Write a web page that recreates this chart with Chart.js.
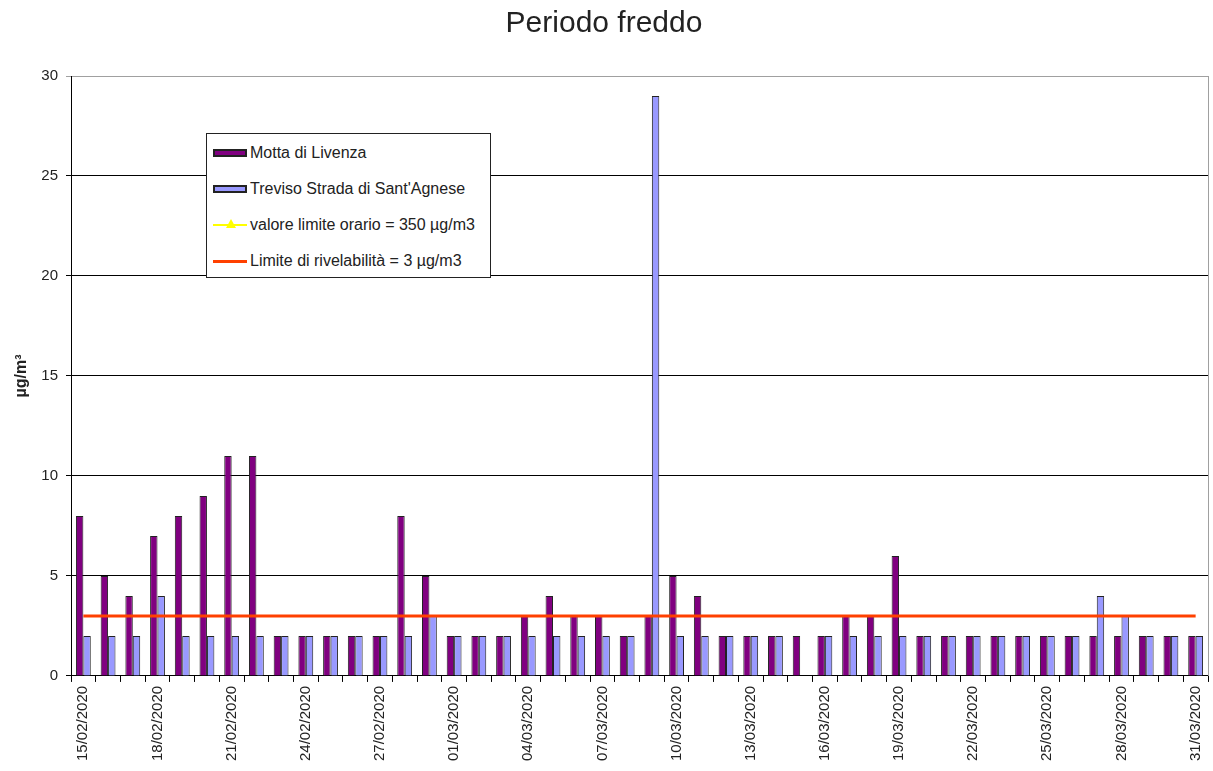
<!DOCTYPE html>
<html lang="it">
<head>
<meta charset="utf-8">
<title>Periodo freddo</title>
<script src="https://cdn.jsdelivr.net/npm/chart.js@4/dist/chart.umd.min.js"></script>
<style>
    body { margin: 0; background: #fff; font-family: 'Liberation Sans', Arial, sans-serif; }
    #wrap { position: relative; width: 1213px; height: 771px; }
    #legenda {
        position: absolute; left: 206px; top: 133px; width: 283px; height: 142px;
        border: 1px solid #222; background: #fff; padding-top: 1px; box-sizing: content-box;
    }
    #legenda .voce { height: 36px; display: flex; align-items: center; font-size: 16px; color: #222; }
    #legenda .segno { width: 34px; height: 10px; margin: 0 3px 0 6px; position: relative; }
</style>
</head>
<body>
<div id="wrap">
    <canvas id="freddoChart" width="1213" height="771"></canvas>
    <div id="legenda"></div>
</div>
<script>
var giorni = ['15/02/2020', '16/02/2020', '17/02/2020', '18/02/2020', '19/02/2020', '20/02/2020', '21/02/2020', '22/02/2020',
    '23/02/2020', '24/02/2020', '25/02/2020', '26/02/2020', '27/02/2020', '28/02/2020', '29/02/2020',
    '01/03/2020', '02/03/2020', '03/03/2020', '04/03/2020', '05/03/2020', '06/03/2020', '07/03/2020', '08/03/2020',
    '09/03/2020', '10/03/2020', '11/03/2020', '12/03/2020', '13/03/2020', '14/03/2020', '15/03/2020', '16/03/2020',
    '17/03/2020', '18/03/2020', '19/03/2020', '20/03/2020', '21/03/2020', '22/03/2020', '23/03/2020', '24/03/2020',
    '25/03/2020', '26/03/2020', '27/03/2020', '28/03/2020', '29/03/2020', '30/03/2020', '31/03/2020'];

// µg/m3, media giornaliera
var motta = [8, 5, 4, 7, 8, 9, 11, 11, 2, 2, 2, 2, 2, 8, 5,
    2, 2, 2, 3, 4, 3, 3, 2, 3, 5, 4, 2, 2, 2, 2, 2,
    3, 3, 6, 2, 2, 2, 2, 2, 2, 2, 2, 2, 2, 2, 2];
var treviso = [2, 2, 2, 4, 2, 2, 2, 2, 2, 2, 2, 2, 2, 2, 3,
    2, 2, 2, 2, 2, 2, 2, 2, 29, 2, 2, 2, 2, 2, null, 2,
    2, 2, 2, 2, 2, 2, 2, 2, 2, 2, 4, 3, 2, 2, 2];
var limiteOrario = [350, 350, 350, 350, 350, 350, 350, 350, 350, 350, 350, 350, 350, 350, 350,
    350, 350, 350, 350, 350, 350, 350, 350, 350, 350, 350, 350, 350, 350, 350, 350,
    350, 350, 350, 350, 350, 350, 350, 350, 350, 350, 350, 350, 350, 350, 350];
var rivelabilita = [3, 3, 3, 3, 3, 3, 3, 3, 3, 3, 3, 3, 3, 3, 3,
    3, 3, 3, 3, 3, 3, 3, 3, 3, 3, 3, 3, 3, 3, 3, 3,
    3, 3, 3, 3, 3, 3, 3, 3, 3, 3, 3, 3, 3, 3, 3];

var font = "'Liberation Sans', Arial, sans-serif";

// bordo grigio sul lato destro dell'area del grafico
var bordoDestro = {
    id: 'bordoDestro',
    afterDraw: function (chart) {
        var a = chart.chartArea, ctx = chart.ctx;
        ctx.save();
        ctx.strokeStyle = '#a0a0a0';
        ctx.lineWidth = 1;
        ctx.beginPath();
        ctx.moveTo(Math.round(a.right) + 0.5, a.top);
        ctx.lineTo(Math.round(a.right) + 0.5, a.bottom);
        ctx.stroke();
        ctx.restore();
    }
};

var freddo = document.getElementById('freddoChart').getContext('2d');
var freddoChart = new Chart(freddo, {
    type: 'bar',
    data: {
        labels: giorni,
        datasets: [
            {
                label: 'Motta di Livenza',
                backgroundColor: '#800080',
                borderColor: '#222',
                borderWidth: 1,
                data: motta,
                order: 2
            },
            {
                label: "Treviso Strada di Sant'Agnese",
                backgroundColor: '#9999ff',
                borderColor: '#222',
                borderWidth: 1,
                data: treviso,
                order: 2
            },
            {
                type: 'line',
                label: 'valore limite orario = 350 µg/m3',
                borderColor: '#ffff00',
                backgroundColor: '#ffff00',
                borderWidth: 1,
                pointStyle: 'triangle',
                pointRadius: 4,
                data: limiteOrario,
                order: 1
            },
            {
                type: 'line',
                label: 'Limite di rivelabilità = 3 µg/m3',
                borderColor: '#ff4000',
                backgroundColor: '#ff4000',
                borderWidth: 3,
                pointRadius: 0,
                data: rivelabilita,
                order: 1
            }
        ]
    },
    options: {
        responsive: false,
        animation: false,
        categoryPercentage: 0.6,
        barPercentage: 1,
        layout: { padding: { left: 0, right: 5, top: 0, bottom: 6 } },
        plugins: {
            legend: { display: false },
            tooltip: { enabled: false },
            title: {
                display: true,
                text: 'Periodo freddo',
                color: '#222',
                font: { family: font, size: 30, weight: 'normal' },
                padding: { top: 6, bottom: 34 }
            }
        },
        scales: {
            x: {
                offset: true,
                afterFit: function (scale) { scale.paddingRight = 0; },
                grid: { display: true, drawOnChartArea: false, offset: true, tickLength: 6, color: '#000' },
                border: { display: true, color: '#000', width: 1 },
                ticks: {
                    autoSkip: false,
                    maxRotation: 90,
                    minRotation: 90,
                    padding: 4,
                    color: '#222',
                    font: { family: font, size: 15 },
                    callback: function (v, i) { return i % 3 === 0 ? giorni[i] : ''; }
                }
            },
            y: {
                min: 0,
                max: 30,
                afterFit: function (scale) { scale.width = 71; },
                ticks: { stepSize: 5, padding: 8, color: '#222', font: { family: font, size: 15 } },
                grid: {
                    tickLength: 5,
                    color: function (c) { return c.tick && c.tick.value === 30 ? '#a0a0a0' : '#000'; }
                },
                border: { display: true, color: '#000', width: 1 },
                title: {
                    display: true,
                    text: 'µg/m³',
                    color: '#222',
                    font: { family: font, size: 16, weight: 'bold' },
                    padding: { top: 12, bottom: 0 }
                }
            }
        }
    },
    plugins: [bordoDestro]
});

// legenda dentro l'area del grafico
var legenda = document.getElementById('legenda');
freddoChart.data.datasets.forEach(function (ds) {
    var voce = document.createElement('div');
    voce.className = 'voce';
    var segno = document.createElement('span');
    segno.className = 'segno';
    if (ds.type === 'line') {
        segno.innerHTML = '<span style="position:absolute;left:0;right:0;top:4px;height:' + (ds.borderWidth > 1 ? 3 : 2) +
            'px;background:' + ds.borderColor + '"></span>';
        if (ds.pointStyle === 'triangle') {
            segno.innerHTML += '<span style="position:absolute;left:13px;top:-1px;width:0;height:0;border-left:5px solid transparent;' +
                'border-right:5px solid transparent;border-bottom:9px solid ' + ds.backgroundColor + '"></span>';
        }
    } else {
        segno.style.height = '8px';
        segno.style.boxSizing = 'border-box';
        segno.style.border = '2px solid #222';
        segno.style.background = ds.backgroundColor;
    }
    voce.appendChild(segno);
    voce.appendChild(document.createTextNode(ds.label));
    legenda.appendChild(voce);
});
</script>
</body>
</html>
